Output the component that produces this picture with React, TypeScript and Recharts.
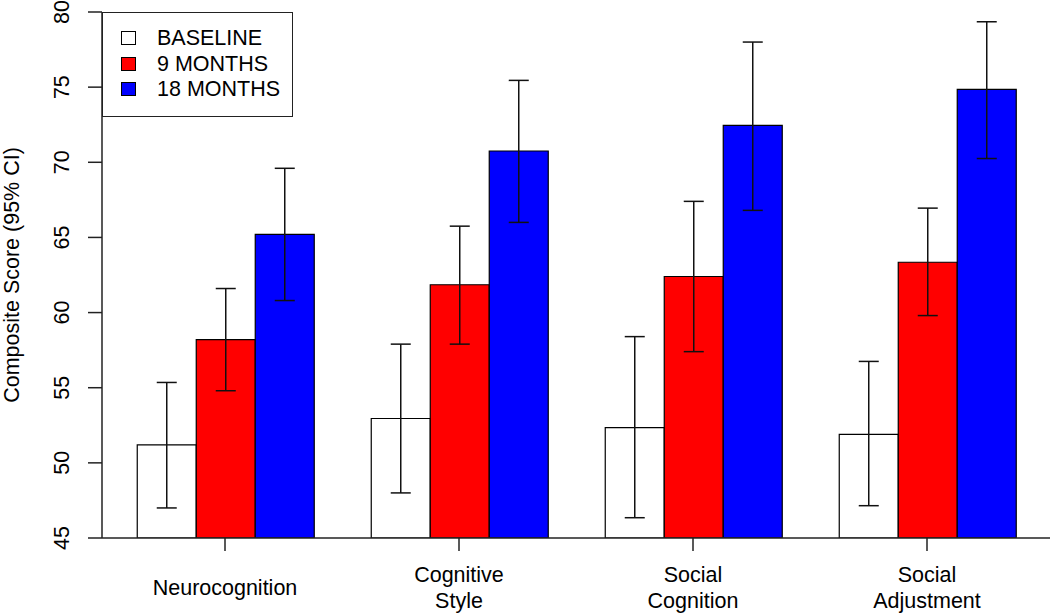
import { Bar, BarChart, ErrorBar, Legend, XAxis, YAxis } from "recharts";

const categories = ["Neurocognition", "Cognitive\nStyle", "Social\nCognition", "Social\nAdjustment"];

const baseline = [51.2, 52.95, 52.35, 51.9];
const baselineLo = [47.0, 48.0, 46.35, 47.15];
const baselineHi = [55.35, 57.9, 58.4, 56.75];

const months9 = [58.2, 61.85, 62.4, 63.35];
const months9Lo = [54.8, 57.9, 57.4, 59.8];
const months9Hi = [61.6, 65.75, 67.4, 66.95];

const months18 = [65.2, 70.75, 72.45, 74.85];
const months18Lo = [60.8, 66.0, 66.8, 70.25];
const months18Hi = [69.6, 75.45, 78.0, 79.35];

const yTicks = [45, 50, 55, 60, 65, 70, 75, 80];

const series = [
  { key: "baseline", name: "BASELINE", color: "#ffffff" },
  { key: "m9", name: "9 MONTHS", color: "#ff0000" },
  { key: "m18", name: "18 MONTHS", color: "#0000ff" },
];

const data = categories.map((category, i) => ({
  category,
  baseline: baseline[i],
  baselineErr: [baseline[i] - baselineLo[i], baselineHi[i] - baseline[i]],
  m9: months9[i],
  m9Err: [months9[i] - months9Lo[i], months9Hi[i] - months9[i]],
  m18: months18[i],
  m18Err: [months18[i] - months18Lo[i], months18Hi[i] - months18[i]],
}));

const font = '"Liberation Sans", Arial, Helvetica, sans-serif';
const ink = "#222";

function YTick({ y, payload }: any) {
  return (
    <text x={62} y={y} transform={`rotate(-90, 62, ${y})`} textAnchor="middle" dominantBaseline="central" fontSize={21.5} fontFamily={font} fill="#000">
      {payload.value}
    </text>
  );
}

function XTick({ x, y, payload }: any) {
  const lines = String(payload.value).split("\n");
  const first = lines.length === 1 ? 42 : 29;
  return (
    <text x={x} y={y} textAnchor="middle" fontSize={21.5} fontFamily={font} fill="#000">
      {lines.map((l, i) => (
        <tspan key={i} x={x} y={y + first + i * 26}>{l}</tspan>
      ))}
    </text>
  );
}

function YTitle() {
  return (
    <text x={12} y={275} transform="rotate(-90, 12, 275)" textAnchor="middle" dominantBaseline="central" fontSize={21.5} fontFamily={font} fill="#000">
      Composite Score (95% CI)
    </text>
  );
}

function LegendBox() {
  return (
    <div style={{ position: "relative", width: 191, height: 105, border: `1.5px solid ${ink}`, boxSizing: "border-box", background: "#fff", fontFamily: font, fontSize: 21.5 }}>
      {series.map((s, i) => (
        <div key={s.key} style={{ position: "absolute", left: 18, top: 12 + i * 25.5, height: 26, display: "flex", alignItems: "center", whiteSpace: "nowrap" }}>
          <span style={{ display: "inline-block", width: 15, height: 14, background: s.color, border: "1px solid #000", boxSizing: "border-box" }} />
          <span style={{ marginLeft: 21, lineHeight: "26px" }}>{s.name}</span>
        </div>
      ))}
    </div>
  );
}

export default function App() {
  return (
    <div style={{ position: "absolute", left: 0, top: 0, background: "#fff" }}>
      <BarChart width={1050} height={613} data={data} margin={{ top: 12, right: 0, bottom: 0, left: 0 }} barCategoryGap="12.5%" barGap={0}>
        <XAxis dataKey="category" interval={0} height={75} padding={{ left: 6, right: 6 }} tickSize={13} tickMargin={2} stroke={ink} strokeWidth={1.5} tick={<XTick />} />
        <YAxis type="number" domain={[45, 80]} ticks={yTicks} allowDataOverflow width={102} tickSize={14} stroke={ink} strokeWidth={1.5} tick={<YTick />} label={<YTitle />} />
        <Legend layout="vertical" align="center" verticalAlign="middle" wrapperStyle={{ left: 102, top: 12, width: 191, height: 105 }} content={<LegendBox />} />
        {series.map((s) => (
          <Bar key={s.key} dataKey={s.key} name={s.name} fill={s.color} stroke="#000" strokeWidth={1.2} isAnimationActive={false}>
            <ErrorBar dataKey={`${s.key}Err`} width={10} stroke="#111" strokeWidth={1.5} direction="y" isAnimationActive={false} />
          </Bar>
        ))}
      </BarChart>
    </div>
  );
}
